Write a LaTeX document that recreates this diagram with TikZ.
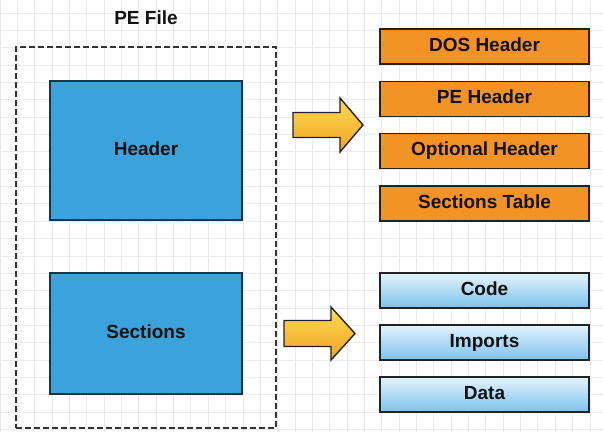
\documentclass[tikz,border=0pt]{standalone}
\usepackage{fontspec}
\setmainfont{Liberation Sans}
\usetikzlibrary{shadings,calc}
\definecolor{gridc}{HTML}{EAEAEA}
\definecolor{bigblue}{HTML}{3AA3DB}
\definecolor{bigblueline}{HTML}{1B3445}
\definecolor{orangefill}{HTML}{F39325}
\definecolor{boxline}{HTML}{222222}
\definecolor{ltbluetop}{HTML}{E4F3FC}
\definecolor{ltbluebot}{HTML}{7CC2EE}
\definecolor{arrtop}{HTML}{FFDA55}
\definecolor{arrbot}{HTML}{F0A422}
\definecolor{txt}{HTML}{111111}
\tikzset{
  lbl/.style={font=\fontsize{19}{22}\selectfont\bfseries, text=txt, text height=13.7pt, text depth=4pt},
  bigbox/.style={lbl, draw=bigblueline, fill=bigblue, line width=1.8pt, inner sep=0pt},
  orbox/.style={lbl, draw=boxline, fill=orangefill, line width=1.6pt, minimum width=209pt, minimum height=35pt, inner sep=0pt},
  blbox/.style={lbl, draw=boxline, top color=ltbluetop, bottom color=ltbluebot, line width=1.6pt, minimum width=209pt, minimum height=35pt, inner sep=0pt},
  blockarrow/.style={draw=boxline, line width=1.4pt, line join=miter, top color=arrtop, bottom color=arrbot},
  framebox/.style={draw=black!80, line width=1.8pt, dash pattern=on 6pt off 3pt, minimum width=260pt, minimum height=381pt, inner sep=0pt}
}
\begin{document}
\begin{tikzpicture}[x=1pt,y=-1pt]
\useasboundingbox (0,0) rectangle (603,432);
\fill[white] (0,0) rectangle (603,432);
% grid
\foreach \i in {0,...,34} {\draw[gridc, line width=0.8pt] ({\i*17.35},0) -- ({\i*17.35},432);}
\foreach \j in {0,...,24} {\draw[gridc, line width=0.8pt] (0,{13+\j*17.35}) -- (603,{13+\j*17.35});}
% left side
\node[lbl] (title) at (146,19.5) {PE File};
\node[framebox] (pefile) at (146,237.5) {};
\node[bigbox, minimum width=192pt, minimum height=139pt] (header) at (146,150.5) {Header};
\node[bigbox, minimum width=192pt, minimum height=121pt] (sections) at (146,333.5) {Sections};
% right side
\node[orbox] (dos) at (484.5,46.5) {DOS Header};
\node[orbox] (pe) at (484.5,99) {PE Header};
\node[orbox] (opt) at (484.5,151) {Optional Header};
\node[orbox] (sectab) at (484.5,203.5) {Sections Table};
\node[blbox] (code) at (484.5,290.5) {Code};
\node[blbox] (imports) at (484.5,342.5) {Imports};
\node[blbox] (data) at (484.5,394.5) {Data};
% block arrows
\coordinate (a1) at (293,125);
\draw[blockarrow] ($(a1)+(0,-12.5)$) -- ++(47,0) -- ++(0,-14.5) -- ++(23,27) -- ++(-23,27) -- ++(0,-14.5) -- ++(-47,0) -- cycle;
\coordinate (a2) at (284,333.5);
\draw[blockarrow] ($(a2)+(0,-13)$) -- ++(47,0) -- ++(0,-13.5) -- ++(24,26.5) -- ++(-24,26.5) -- ++(0,-13.5) -- ++(-47,0) -- cycle;
\end{tikzpicture}
\end{document}
